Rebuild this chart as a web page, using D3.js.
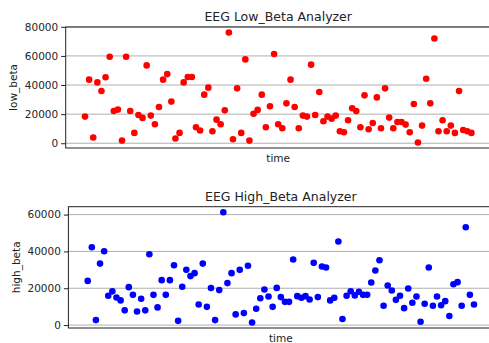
<!DOCTYPE html>
<html>
<head>
<meta charset="utf-8">
<script src="https://cdn.jsdelivr.net/npm/d3@7"></script>
<style>
  body { margin: 0; background: #fff; }
  svg { display: block; font-family: "DejaVu Sans", sans-serif; }
</style>
</head>
<body>
<svg width="489" height="343"></svg>
<script>
// values (one sample per time step)
var lowBeta = [18300, 43700, 3900, 41800, 35900, 45300, 59400, 22200, 23100, 1800,
  59400, 22200, 7100, 19400, 17400, 53500, 19000, 13000, 24900, 43700,
  47500, 28600, 3200, 7100, 41800, 45500, 45500, 11000, 8700, 33400,
  38200, 8200, 16200, 13000, 22600, 76100, 2700, 37700, 7100, 57600,
  1800, 20300, 22900, 33400, 11000, 25400, 61300, 13000, 10300, 27400,
  43700, 24900, 10300, 19000, 18300, 54000, 19400, 35200, 15100, 18300,
  16900, 19000, 8200, 7500, 15800, 24000, 22200, 11000, 32900, 9600,
  13900, 31500, 10300, 37700, 17600, 10300, 14600, 14600, 12800, 7500,
  27000, 500, 12100, 44300, 27400, 72000, 8200, 15800, 8200, 12100,
  7100, 35900, 9100, 8200, 7100];

var highBeta = [24000, 42300, 2700, 33400, 40100, 15900, 18300, 15000, 13400, 8000,
  20600, 16400, 7400, 14300, 8000, 38500, 16400, 9600, 24400, 16400,
  24400, 32500, 2300, 20800, 30000, 26600, 28200, 11200, 33400, 9900,
  20100, 2700, 19000, 61300, 22800, 28200, 5800, 30000, 6500, 32200,
  1400, 8900, 14600, 19300, 15500, 9900, 20200, 15200, 12600, 12600,
  35600, 15700, 14800, 15700, 13900, 33800, 15200, 31800, 31300, 13400,
  14800, 45400, 3300, 15900, 18400, 16100, 18100, 16400, 16400, 23100,
  29600, 35200, 10500, 21500, 18800, 13700, 15900, 9200, 19900, 12100,
  15500, 1800, 11600, 31300, 10500, 15500, 10800, 13000, 4900, 22200,
  23300, 10500, 53100, 16400, 11200];

var lowTicks = [0, 20000, 40000, 60000, 80000];
var highTicks = [0, 20000, 40000, 60000];

var svg = d3.select("svg");

// pad like matplotlib's default 5% margins
function padded(ext) {
  var p = (ext[1] - ext[0]) * 0.05;
  return [ext[0] - p, ext[1] + p];
}

function drawPanel(opt) {
  var g = svg.append("g");
  var n = opt.values.length;

  var x = d3.scaleLinear()
    .domain(padded([0, n - 1]))
    .range([opt.left, opt.right]);
  var y = d3.scaleLinear()
    .domain(padded(d3.extent(opt.values)))
    .range([opt.bottom, opt.top]);

  // horizontal grid
  g.selectAll(".grid")
    .data(opt.ticks)
    .join("line")
    .attr("x1", opt.left).attr("x2", opt.right)
    .attr("y1", d => y(d)).attr("y2", d => y(d))
    .attr("stroke", "#b0b0b0")
    .attr("stroke-width", 1);

  var yAxis = d3.axisLeft(y)
    .tickValues(opt.ticks)
    .tickFormat(d3.format("d"))
    .tickSize(4.5)
    .tickPadding(3);
  var ax = g.append("g")
    .attr("transform", "translate(" + opt.left + ",0)")
    .call(yAxis);
  ax.select(".domain").remove();
  ax.selectAll("line").attr("stroke", "#222");
  ax.selectAll("text")
    .attr("fill", "#262626")
    .style("font-size", "10.5px")
    .style("font-family", "DejaVu Sans");

  // frame
  g.append("rect")
    .attr("x", opt.left).attr("y", opt.top)
    .attr("width", opt.right - opt.left)
    .attr("height", opt.bottom - opt.top)
    .attr("fill", "none")
    .attr("stroke", "#222")
    .attr("stroke-width", 1);

  g.selectAll(".dot")
    .data(opt.values)
    .join("circle")
    .attr("cx", (d, i) => x(i))
    .attr("cy", d => y(d))
    .attr("r", 3.3)
    .attr("fill", opt.color);

  var cx = (opt.left + opt.right) / 2;
  g.append("text")
    .attr("x", cx).attr("y", opt.top - 6)
    .attr("text-anchor", "middle")
    .attr("fill", "#222")
    .style("font-size", "12.5px")
    .text(opt.title);

  g.append("text")
    .attr("x", cx).attr("y", opt.bottom + 13.5)
    .attr("text-anchor", "middle")
    .attr("fill", "#222")
    .style("font-size", "10.5px")
    .text("time");

  g.append("text")
    .attr("transform", "translate(" + opt.ylabelX + "," + ((opt.top + opt.bottom) / 2) + ") rotate(-90)")
    .attr("text-anchor", "middle")
    .attr("fill", "#222")
    .style("font-size", "10.5px")
    .text(opt.ylabel);
}

drawPanel({
  values: lowBeta, ticks: lowTicks, color: "#ff0000",
  title: "EEG Low_Beta Analyzer", ylabel: "low_beta",
  left: 65.7, right: 490.7, top: 27, bottom: 148, ylabelX: 17
});

drawPanel({
  values: highBeta, ticks: highTicks, color: "#0000ff",
  title: "EEG High_Beta Analyzer", ylabel: "high_beta",
  left: 68.4, right: 493.3, top: 206.7, bottom: 328, ylabelX: 19.5
});
</script>
</body>
</html>
